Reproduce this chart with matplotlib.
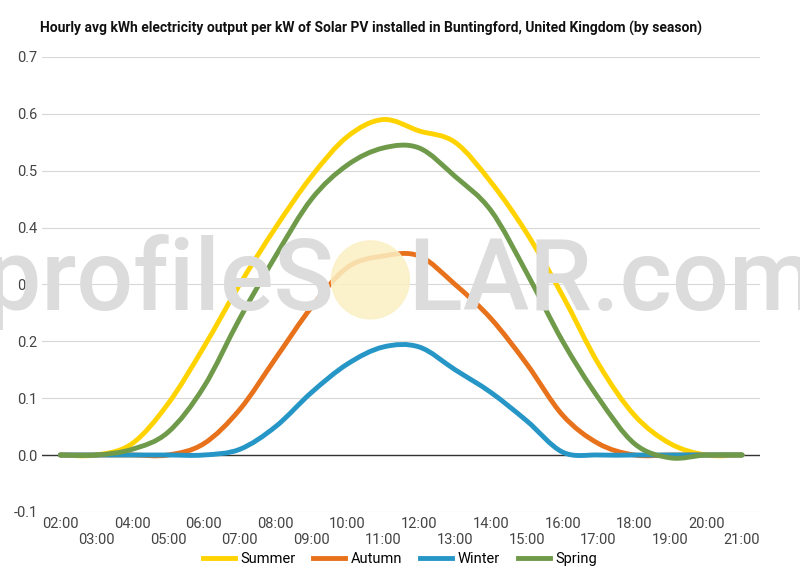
import matplotlib
matplotlib.use("Agg")
import matplotlib.pyplot as plt
from matplotlib.path import Path
from matplotlib.patches import PathPatch, Ellipse
from matplotlib.lines import Line2D
import numpy as np

plt.rcParams["font.family"] = "Roboto"

# ── data ─────────────────────────────────────────────
hours = list(range(2, 22))
hour_labels = [f"{h:02d}:00" for h in hours]
summer = [0, 0, 0.02, 0.09, 0.19, 0.30, 0.40, 0.49, 0.56, 0.59, 0.57, 0.55, 0.48, 0.39, 0.28, 0.16, 0.07, 0.02, 0.0, 0]
autumn = [0, 0, 0, 0, 0.02, 0.08, 0.17, 0.26, 0.33, 0.35, 0.35, 0.30, 0.24, 0.16, 0.07, 0.02, 0, 0, 0, 0]
winter = [0, 0, 0, 0, 0, 0.01, 0.05, 0.11, 0.16, 0.19, 0.19, 0.15, 0.11, 0.06, 0.005, 0, 0, 0, 0, 0]
spring = [0, 0, 0.01, 0.04, 0.12, 0.24, 0.35, 0.45, 0.51, 0.54, 0.54, 0.49, 0.43, 0.32, 0.20, 0.10, 0.02, -0.005, 0, 0]

series = [("Summer", summer, "#FFD300"), ("Autumn", autumn, "#E8711C"),
          ("Winter", winter, "#2596C6"), ("Spring", spring, "#6E9A4A")]


def smooth_path(x, y):
    # Catmull-Rom -> cubic bezier segments through the data points
    x = np.asarray(x, float); y = np.asarray(y, float)
    verts = [(x[0], y[0])]
    codes = [Path.MOVETO]
    n = len(x)
    for i in range(n - 1):
        p0 = np.array([x[max(i - 1, 0)], y[max(i - 1, 0)]])
        p1 = np.array([x[i], y[i]])
        p2 = np.array([x[i + 1], y[i + 1]])
        p3 = np.array([x[min(i + 2, n - 1)], y[min(i + 2, n - 1)]])
        c1 = p1 + (p2 - p0) / 6
        c2 = p2 - (p3 - p1) / 6
        verts += [tuple(c1), tuple(c2), tuple(p2)]
        codes += [Path.CURVE4] * 3
    return Path(verts, codes)


fig = plt.figure(figsize=(8, 5.7), dpi=100)
ax = fig.add_axes([0.053, 0.102, 0.897, 0.798])

# watermark (behind the axes)
fig.text(0.5, 0.505, "profileS   LAR.com", fontsize=72, fontweight="medium",
         color="#dcdcdc", ha="center", va="center", zorder=0)
fig.patches.append(Ellipse((0.463, 0.509), 78 / 800, 78 / 570, transform=fig.transFigure,
                           color="#fbf0c4", alpha=0.85, zorder=0))

for name, vals, col in series:
    ax.add_patch(PathPatch(smooth_path(hours, vals), fill=False, edgecolor=col,
                           lw=3.5, capstyle="round", zorder=3))

ax.set_xlim(1.5, 21.5)
ax.set_ylim(-0.1, 0.7)
ax.set_yticks(np.arange(-0.1, 0.71, 0.1))
ax.set_yticklabels([f"{v:.1f}" for v in np.arange(-0.1, 0.71, 0.1)])
ax.grid(axis="y", color="#d8d8d8", lw=0.8)
ax.axhline(0, color="#333333", lw=1, zorder=2)
ax.set_axisbelow(True)
ax.patch.set_alpha(0)
for s in ax.spines.values():
    s.set_visible(False)
ax.tick_params(length=0, labelsize=10.5, colors="#444444")
ax.set_xticks(hours)
ax.set_xticklabels([lab if i % 2 == 0 else "\n" + lab for i, lab in enumerate(hour_labels)])

fig.text(0.05, 0.95, "Hourly avg kWh electricity output per kW of Solar PV installed in Buntingford, United Kingdom (by season)",
         fontsize=10, fontweight="bold", color="#111111", va="center")

handles = [Line2D([], [], color=c, lw=3.5) for _, _, c in series]
fig.legend(handles, [n for n, _, _ in series], loc="lower center", ncol=4,
           bbox_to_anchor=(0.5, -0.016), frameon=False, fontsize=10.5,
           handlelength=2.2, columnspacing=1.2, handletextpad=0.4)

fig.savefig("out.png", dpi=100)
